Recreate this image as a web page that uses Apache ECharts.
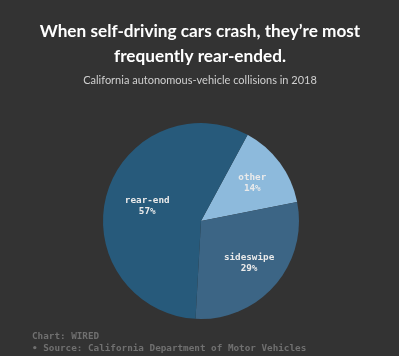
<!DOCTYPE html>
<html><head><meta charset="utf-8">
<script src="https://cdn.jsdelivr.net/npm/echarts@6/dist/echarts.min.js"></script>
<style>html,body{margin:0;padding:0;background:#333333;}#c{width:399px;height:356px;}</style>
</head><body><div id="c"></div>
<script>
const categories = ['other', 'sideswipe', 'rear-end'];
const values = [14, 29, 57];
const colors = ['#8dbadc', '#3c6585', '#275a7b'];
const titleLines = ['When self-driving cars crash, they\u2019re most', 'frequently rear-ended.'];
const subtitle = 'California autonomous-vehicle collisions in 2018';
const footer = ['Chart: WIRED', '\u2022 Source: California Department of Motor Vehicles'];

const CX = 201, CY = 221, R = 98;
const chart = echarts.init(document.getElementById('c'));
chart.setOption({
  backgroundColor: '#333333',
  animation: false,
  graphic: [
    { type: 'text', x: 200, y: 31, style: { text: titleLines[0], fill: '#ffffff', font: 'bold 17.2px Lato', textAlign: 'center', textVerticalAlign: 'middle' } },
    { type: 'text', x: 200, y: 56, style: { text: titleLines[1], fill: '#ffffff', font: 'bold 17.2px Lato', textAlign: 'center', textVerticalAlign: 'middle' } },
    { type: 'text', x: 200, y: 80, style: { text: subtitle, fill: '#d0d0d0', font: '11px Lato', textAlign: 'center', textVerticalAlign: 'middle' } },
    { type: 'text', x: 32, y: 337, style: { text: footer[0], fill: '#707070', font: 'bold 9.3px "DejaVu Sans Mono"', textAlign: 'left', textVerticalAlign: 'middle' } },
    { type: 'text', x: 32, y: 348.5, style: { text: footer[1], fill: '#707070', font: 'bold 9.3px "DejaVu Sans Mono"', textAlign: 'left', textVerticalAlign: 'middle' } }
  ],
  series: [{
    type: 'pie',
    center: [CX, CY],
    radius: [0, R],
    startAngle: 61.6,
    clockwise: true,
    silent: true,
    data: categories.map((c, i) => ({ name: c, value: values[i], itemStyle: { color: colors[i] } })),
    label: {
      position: 'inside',
      formatter: p => p.name + '\n' + p.value + '%',
      color: '#eaeaea',
      fontFamily: 'DejaVu Sans Mono',
      fontWeight: 'bold',
      fontSize: 9.3,
      lineHeight: 11
    },
    labelLayout: function (p) {
      const r = p.labelRect;
      const mx = r.x + r.width / 2, my = r.y + r.height / 2;
      const vx = mx - CX, vy = my - CY;
      const d = Math.sqrt(vx * vx + vy * vy) || 1;
      const target = (p.dataIndex === 2 ? 0.57 : 0.65) * R;
      return { dx: vx / d * target - vx, dy: vy / d * target - vy };
    },
    labelLine: { show: false }
  }]
});
</script></body></html>
